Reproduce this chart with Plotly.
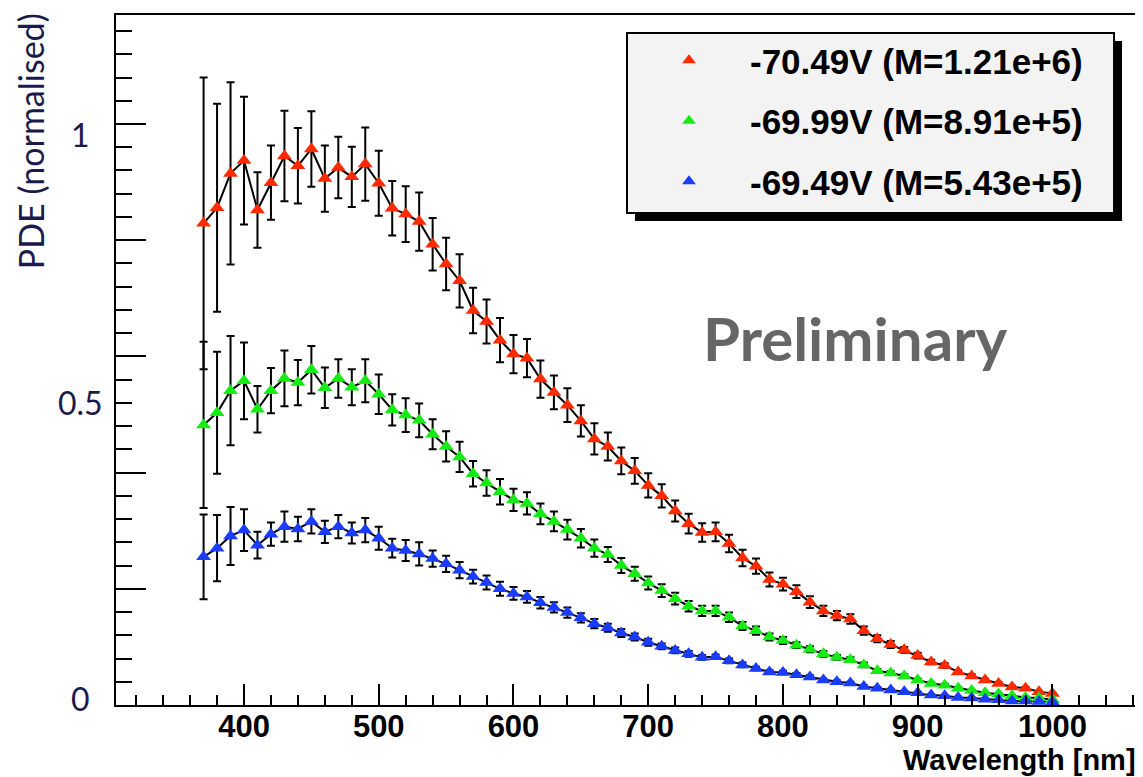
import plotly.graph_objects as go

# ---------------- data ----------------
wavelength = [370, 380, 390, 400, 410, 420, 430, 440, 450, 460, 470, 480, 490, 500,
              510, 520, 530, 540, 550, 560, 570, 580, 590, 600, 610, 620, 630, 640,
              650, 660, 670, 680, 690, 700, 710, 720, 730, 740, 750, 760, 770, 780,
              790, 800, 810, 820, 830, 840, 850, 860, 870, 880, 890, 900, 910, 920,
              930, 940, 950, 960, 970, 980, 990, 1000]

pde_7049 = [0.829, 0.856, 0.915, 0.937, 0.852, 0.899, 0.945, 0.928, 0.957, 0.906, 0.925, 0.909,
            0.931, 0.898, 0.855, 0.845, 0.832, 0.793, 0.759, 0.730, 0.679, 0.660, 0.628, 0.604,
            0.597, 0.561, 0.538, 0.516, 0.489, 0.458, 0.445, 0.420, 0.403, 0.378, 0.360, 0.334,
            0.312, 0.297, 0.298, 0.278, 0.253, 0.239, 0.216, 0.208, 0.195, 0.177, 0.162, 0.154,
            0.148, 0.128, 0.114, 0.104, 0.095, 0.085, 0.074, 0.068, 0.057, 0.050, 0.043, 0.037,
            0.031, 0.029, 0.023, 0.020]
err_7049 = [0.251, 0.179, 0.157, 0.110, 0.065, 0.064, 0.078, 0.065, 0.065, 0.057, 0.053, 0.052,
            0.063, 0.056, 0.047, 0.048, 0.050, 0.045, 0.045, 0.046, 0.039, 0.038, 0.038, 0.033,
            0.033, 0.032, 0.029, 0.029, 0.027, 0.027, 0.024, 0.023, 0.022, 0.021, 0.020, 0.018,
            0.017, 0.016, 0.016, 0.015, 0.014, 0.013, 0.012, 0.011, 0.011, 0.010, 0.009, 0.008,
            0.008, 0.007, 0.006, 0.006, 0.005, 0.005, 0.004, 0.004, 0.003, 0.003, 0.002, 0.002,
            0.002, 0.002, 0.001, 0.001]

pde_6999 = [0.482, 0.503, 0.541, 0.558, 0.509, 0.541, 0.562, 0.555, 0.577, 0.546, 0.562, 0.547,
            0.558, 0.535, 0.508, 0.499, 0.490, 0.466, 0.445, 0.427, 0.398, 0.382, 0.367, 0.353,
            0.347, 0.329, 0.316, 0.302, 0.287, 0.270, 0.259, 0.240, 0.226, 0.210, 0.197, 0.183,
            0.170, 0.162, 0.162, 0.151, 0.136, 0.128, 0.117, 0.111, 0.103, 0.096, 0.088, 0.082,
            0.078, 0.069, 0.059, 0.055, 0.050, 0.043, 0.037, 0.034, 0.029, 0.025, 0.021, 0.019,
            0.016, 0.013, 0.012, 0.009]
err_6999 = [0.143, 0.105, 0.094, 0.066, 0.040, 0.039, 0.048, 0.039, 0.041, 0.035, 0.033, 0.031,
            0.037, 0.034, 0.027, 0.029, 0.029, 0.026, 0.026, 0.026, 0.022, 0.022, 0.022, 0.019,
            0.019, 0.018, 0.017, 0.017, 0.016, 0.015, 0.013, 0.013, 0.012, 0.011, 0.011, 0.010,
            0.009, 0.009, 0.009, 0.008, 0.007, 0.007, 0.006, 0.006, 0.005, 0.005, 0.005, 0.004,
            0.004, 0.004, 0.003, 0.003, 0.003, 0.002, 0.002, 0.002, 0.002, 0.001, 0.001, 0.001,
            0.001, 0.001, 0.001, 0.001]

pde_6949 = [0.255, 0.270, 0.291, 0.301, 0.275, 0.294, 0.307, 0.303, 0.316, 0.298, 0.307, 0.296,
            0.301, 0.287, 0.270, 0.266, 0.260, 0.252, 0.243, 0.232, 0.221, 0.211, 0.200, 0.192,
            0.186, 0.176, 0.168, 0.159, 0.150, 0.140, 0.133, 0.124, 0.117, 0.108, 0.101, 0.094,
            0.088, 0.082, 0.083, 0.076, 0.069, 0.063, 0.057, 0.056, 0.052, 0.048, 0.043, 0.040,
            0.038, 0.032, 0.029, 0.026, 0.023, 0.021, 0.017, 0.016, 0.013, 0.012, 0.010, 0.009,
            0.007, 0.007, 0.006, 0.005]
err_6949 = [0.073, 0.057, 0.050, 0.036, 0.023, 0.020, 0.026, 0.021, 0.021, 0.019, 0.020, 0.018,
            0.021, 0.020, 0.016, 0.018, 0.020, 0.014, 0.014, 0.014, 0.012, 0.012, 0.012, 0.011,
            0.010, 0.010, 0.009, 0.009, 0.008, 0.008, 0.007, 0.007, 0.006, 0.006, 0.005, 0.005,
            0.005, 0.004, 0.004, 0.004, 0.004, 0.003, 0.003, 0.003, 0.003, 0.003, 0.002, 0.002,
            0.002, 0.002, 0.002, 0.001, 0.001, 0.001, 0.001, 0.001, 0.001, 0.001, 0.001, 0.001,
            0.001, 0.001, 0.001, 0.001]

series_names = ["-70.49V (M=1.21e+6)", "-69.99V (M=8.91e+5)", "-69.49V (M=5.43e+5)"]
series_values = [pde_7049, pde_6999, pde_6949]
series_errors = [err_7049, err_6999, err_6949]
series_colors = ["#ff2a00", "#14ec14", "#1a3cff"]

y_label_values = [0, 0.5, 1]
y_label_texts = ["0", "0.5", "1"]

# ---------------- figure ----------------
# The page body has an 8px default margin, so the figure is sized/offset to compensate.
OFF = 8
W, H = 1143 - OFF, 777 - OFF
PL, PR, PT, PB = 116, 1138, 15, 705          # plot-area edges in page pixels
ML, MR, MT, MB = PL - OFF, (1143 - PR), PT - OFF, (777 - PB)
PW, PH = W - ML - MR, H - MT - MB


def px_x(px):
    return (px - PL) / PW


def px_y(py):
    return (PB - py) / PH


fig = go.Figure()

# connecting lines (black)
for vals in series_values:
    fig.add_trace(go.Scatter(x=wavelength, y=vals, mode="lines",
                             line=dict(color="black", width=2),
                             showlegend=False, hoverinfo="skip"))

# markers + error bars
for i, (name, vals, errs, col) in enumerate(zip(series_names, series_values, series_errors, series_colors)):
    fig.add_trace(go.Scatter(
        x=wavelength, y=vals, mode="markers", name=name,
        legendgroup=f"g{i}",
        marker=dict(symbol="triangle-up", size=13, color=col, line=dict(width=0)),
        error_y=dict(type="data", array=errs, visible=True, color="black",
                     thickness=2, width=4),
    ))

YMAX = 1.1876

fig.update_xaxes(
    range=[305, 1062], showline=True, linecolor="black", linewidth=2, mirror=True,
    ticks="inside", ticklen=21, tickwidth=2, tickcolor="black",
    tick0=0, dtick=100, showgrid=False, zeroline=False,
    minor=dict(ticks="inside", ticklen=10, tickwidth=2, tickcolor="black", tick0=0, dtick=20,
               showgrid=False),
    tickfont=dict(family="Liberation Sans, Arial", size=31, color="black", weight="bold"),
    ticklabelstandoff=-7,
)
fig.update_yaxes(
    range=[0, YMAX], showline=True, linecolor="black", linewidth=2, mirror=True,
    ticks="inside", ticklen=30, tickwidth=2, tickcolor="black",
    tick0=0, dtick=0.2, showgrid=False, zeroline=False, showticklabels=False,
    minor=dict(ticks="inside", ticklen=16, tickwidth=2, tickcolor="black", tick0=0, dtick=0.04,
               showgrid=False),
)

annotations = []
# hand-placed y labels (navy, humanist font) - slightly offset as in the original
label_offsets = {"0": 7, "0.5": 12, "1": -10}
for v, t in zip(y_label_values, y_label_texts):
    annotations.append(dict(
        x=px_x(80), xref="paper", y=v, yref="y", yshift=label_offsets[t],
        text=t, showarrow=False, xanchor="center", yanchor="middle",
        font=dict(family="Lato, Open Sans", size=32, color="#1c1a4c")))

# y title
annotations.append(dict(
    x=px_x(31), xref="paper", y=px_y(141), yref="paper", text="PDE (normalised)",
    textangle=-90, showarrow=False, xanchor="center", yanchor="middle",
    font=dict(family="Lato, Open Sans", size=34, color="#1c1a4c")))

# x title
annotations.append(dict(
    x=px_x(1140), xref="paper", y=px_y(760), yref="paper", text="<b>Wavelength [nm]</b>",
    showarrow=False, xanchor="right", yanchor="middle",
    font=dict(family="Liberation Sans, Arial", size=29, color="black")))

# Preliminary
annotations.append(dict(
    x=px_x(857), xref="paper", y=px_y(338), yref="paper", text="<b>Preliminary</b>",
    showarrow=False, xanchor="center", yanchor="middle",
    font=dict(family="Lato", size=60, color="#666666")))

shapes = [
    # legend shadow
    dict(type="rect", xref="paper", yref="paper", layer="above",
         x0=px_x(636), x1=px_x(1124), y0=px_y(221), y1=px_y(41),
         fillcolor="black", line=dict(width=0)),
    # legend box
    dict(type="rect", xref="paper", yref="paper", layer="above",
         x0=px_x(628), x1=px_x(1116), y0=px_y(213), y1=px_y(33),
         fillcolor="#f3f3f3", line=dict(color="black", width=2)),
]

fig.update_layout(
    width=W, height=H,
    margin=dict(l=ML, r=MR, t=MT, b=MB),
    paper_bgcolor="white", plot_bgcolor="white",
    annotations=annotations, shapes=shapes,
    showlegend=True,
    legend=dict(
        x=px_x(629), y=px_y(31), xanchor="left", yanchor="top",
        bgcolor="rgba(0,0,0,0)", borderwidth=0,
        font=dict(family="Liberation Sans, Arial", size=35, color="black", weight="bold"),
        itemsizing="constant", itemwidth=112, tracegroupgap=12,
        traceorder="grouped",
    ),
)

fig.write_html("out.html")
